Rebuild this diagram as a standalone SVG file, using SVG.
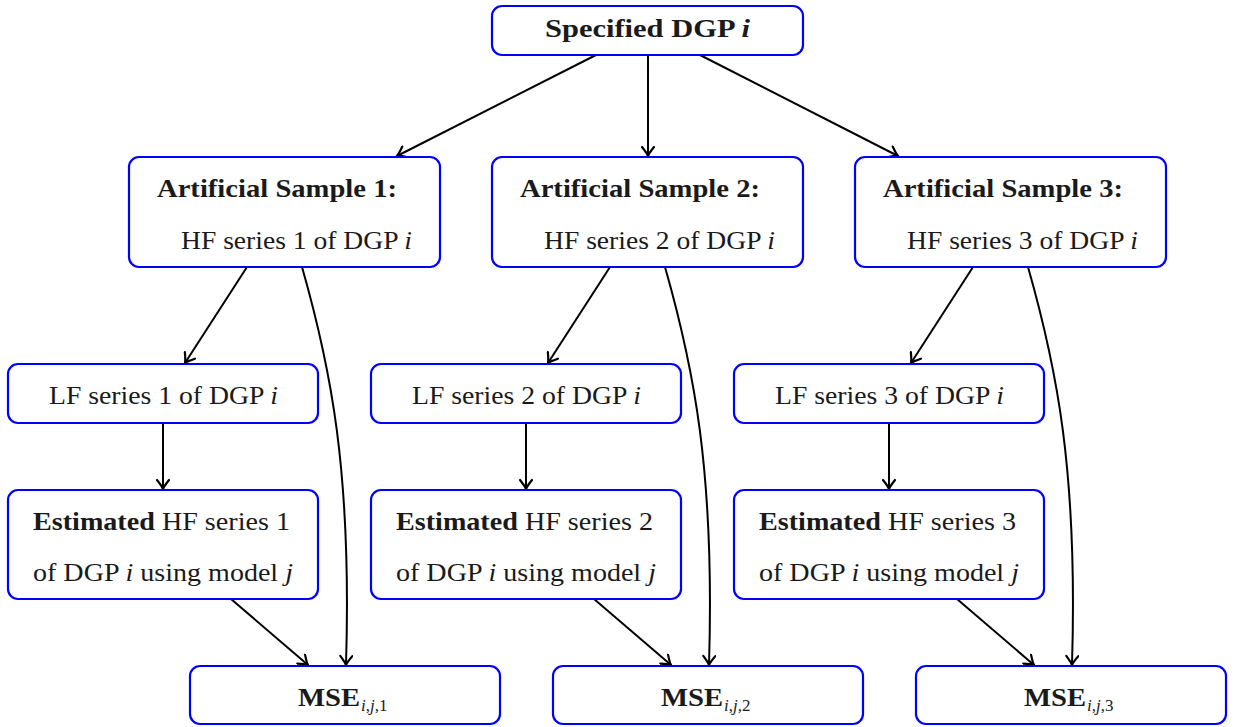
<svg xmlns="http://www.w3.org/2000/svg" width="1236" height="727" viewBox="0 0 1236 727">
<defs>
<style>
.box{fill:#fff;stroke:#0000ff;stroke-width:2.2}
.t{font-family:"Liberation Serif","Times New Roman",serif;font-size:26px;fill:#1a1a1a}
.b{font-weight:bold}
.it{font-style:italic}
.sub{font-size:17px}
.c{fill:none;stroke:#000;stroke-width:2}
</style>
<marker id="ah" viewBox="-12 -7 14 14" markerWidth="14" markerHeight="14" refX="0" refY="0" orient="auto" markerUnits="userSpaceOnUse">
<path d="M-9,-6 Q-3,-1.2 0,0 Q-3,1.2 -9,6" fill="none" stroke="#000" stroke-width="2.2" stroke-linecap="round"/>
</marker>
</defs>
<rect width="1236" height="727" fill="#fff"/>
<g id="connectors">
<path class="c" marker-end="url(#ah)" d="M596,55 L397,156"/>
<path class="c" marker-end="url(#ah)" d="M648,55 L648,156"/>
<path class="c" marker-end="url(#ah)" d="M700,55 L898,156"/>
<path class="c" marker-end="url(#ah)" d="M247,267 L185,363"/>
<path class="c" marker-end="url(#ah)" d="M610,267 L548,363"/>
<path class="c" marker-end="url(#ah)" d="M973,267 L911,363"/>
<path class="c" marker-end="url(#ah)" d="M302,267 C330,365 352,470 346,665"/>
<path class="c" marker-end="url(#ah)" d="M665,267 C693,365 715,470 709,665"/>
<path class="c" marker-end="url(#ah)" d="M1028,267 C1056,365 1078,470 1072,665"/>
<path class="c" marker-end="url(#ah)" d="M163,423 L163,489"/>
<path class="c" marker-end="url(#ah)" d="M526,423 L526,489"/>
<path class="c" marker-end="url(#ah)" d="M889,423 L889,489"/>
<path class="c" marker-end="url(#ah)" d="M231,599 L308,665"/>
<path class="c" marker-end="url(#ah)" d="M594,599 L671,665"/>
<path class="c" marker-end="url(#ah)" d="M957,599 L1034,665"/>
</g>
<g id="dgp">
<rect class="box" x="492" y="6" width="311" height="49" rx="10"/>
<text class="t b" x="545" y="37" textLength="205" lengthAdjust="spacingAndGlyphs">Specified DGP <tspan class="it">i</tspan></text>
</g>
<g id="sample1">
<rect class="box" x="129" y="157" width="311" height="110" rx="10"/>
<text class="t b" x="157" y="197" textLength="240" lengthAdjust="spacingAndGlyphs">Artificial Sample 1:</text>
<text class="t" x="181" y="249" textLength="231" lengthAdjust="spacingAndGlyphs">HF series 1 of DGP <tspan class="it">i</tspan></text>
</g>
<g id="sample2">
<rect class="box" x="492" y="157" width="311" height="110" rx="10"/>
<text class="t b" x="520" y="197" textLength="240" lengthAdjust="spacingAndGlyphs">Artificial Sample 2:</text>
<text class="t" x="544" y="249" textLength="231" lengthAdjust="spacingAndGlyphs">HF series 2 of DGP <tspan class="it">i</tspan></text>
</g>
<g id="sample3">
<rect class="box" x="855" y="157" width="311" height="110" rx="10"/>
<text class="t b" x="883" y="197" textLength="240" lengthAdjust="spacingAndGlyphs">Artificial Sample 3:</text>
<text class="t" x="907" y="249" textLength="231" lengthAdjust="spacingAndGlyphs">HF series 3 of DGP <tspan class="it">i</tspan></text>
</g>
<g id="lf1">
<rect class="box" x="8" y="364" width="310" height="59" rx="10"/>
<text class="t" x="49" y="404" textLength="229" lengthAdjust="spacingAndGlyphs">LF series 1 of DGP <tspan class="it">i</tspan></text>
</g>
<g id="lf2">
<rect class="box" x="371" y="364" width="310" height="59" rx="10"/>
<text class="t" x="412" y="404" textLength="229" lengthAdjust="spacingAndGlyphs">LF series 2 of DGP <tspan class="it">i</tspan></text>
</g>
<g id="lf3">
<rect class="box" x="734" y="364" width="310" height="59" rx="10"/>
<text class="t" x="775" y="404" textLength="229" lengthAdjust="spacingAndGlyphs">LF series 3 of DGP <tspan class="it">i</tspan></text>
</g>
<g id="est1">
<rect class="box" x="8" y="490" width="310" height="109" rx="10"/>
<text class="t" x="33" y="530" textLength="257" lengthAdjust="spacingAndGlyphs"><tspan class="b">Estimated</tspan> HF series 1</text>
<text class="t" x="33" y="581" textLength="260" lengthAdjust="spacingAndGlyphs">of DGP <tspan class="it">i</tspan> using model <tspan class="it">j</tspan></text>
</g>
<g id="est2">
<rect class="box" x="371" y="490" width="310" height="109" rx="10"/>
<text class="t" x="396" y="530" textLength="257" lengthAdjust="spacingAndGlyphs"><tspan class="b">Estimated</tspan> HF series 2</text>
<text class="t" x="396" y="581" textLength="260" lengthAdjust="spacingAndGlyphs">of DGP <tspan class="it">i</tspan> using model <tspan class="it">j</tspan></text>
</g>
<g id="est3">
<rect class="box" x="734" y="490" width="310" height="109" rx="10"/>
<text class="t" x="759" y="530" textLength="257" lengthAdjust="spacingAndGlyphs"><tspan class="b">Estimated</tspan> HF series 3</text>
<text class="t" x="759" y="581" textLength="260" lengthAdjust="spacingAndGlyphs">of DGP <tspan class="it">i</tspan> using model <tspan class="it">j</tspan></text>
</g>
<g id="mse1">
<rect class="box" x="190" y="666" width="310" height="58" rx="10"/>
<text class="t b" x="298" y="706" textLength="62" lengthAdjust="spacingAndGlyphs">MSE</text>
<text class="t sub" x="361" y="711"><tspan class="it">i</tspan>,<tspan class="it">j</tspan>,1</text>
</g>
<g id="mse2">
<rect class="box" x="553" y="666" width="310" height="58" rx="10"/>
<text class="t b" x="661" y="706" textLength="62" lengthAdjust="spacingAndGlyphs">MSE</text>
<text class="t sub" x="724" y="711"><tspan class="it">i</tspan>,<tspan class="it">j</tspan>,2</text>
</g>
<g id="mse3">
<rect class="box" x="916" y="666" width="310" height="58" rx="10"/>
<text class="t b" x="1024" y="706" textLength="62" lengthAdjust="spacingAndGlyphs">MSE</text>
<text class="t sub" x="1087" y="711"><tspan class="it">i</tspan>,<tspan class="it">j</tspan>,3</text>
</g>
</svg>
